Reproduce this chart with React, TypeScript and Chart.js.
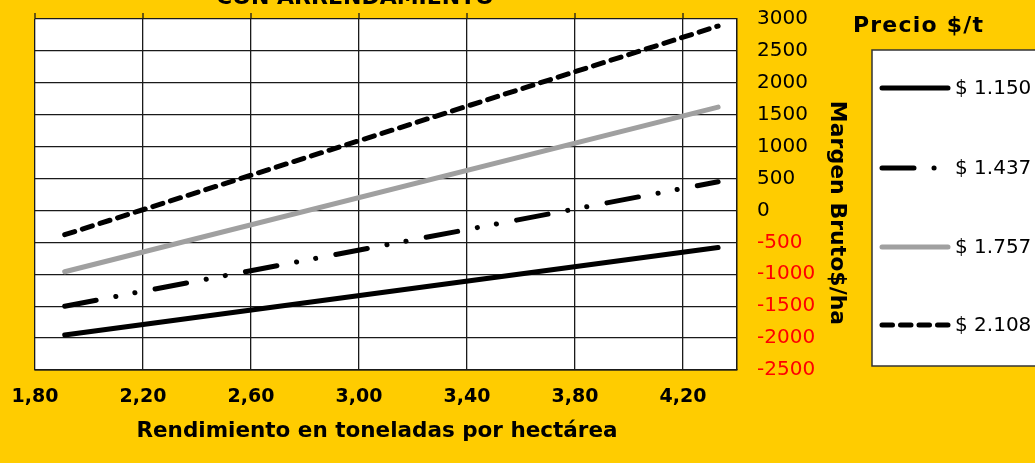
import React, { useEffect, useRef } from "react";
import { Chart, registerables } from "chart.js";

Chart.register(...registerables);

const X_VALUES = [1.91, 4.33];
const S_1150 = [-1950, -580];
const S_1437 = [-1500, 450];
const S_1757 = [-960, 1620];
const S_2108 = [-380, 2890];
const SERIES_LABELS = ["$ 1.150", "$ 1.437", "$ 1.757", "$ 2.108"];
const X_TICKS = [1.8, 2.2, 2.6, 3.0, 3.4, 3.8, 4.2];
const X_MIN = 1.8;
const X_MAX = 4.4;
const Y_MIN = -2500;
const Y_MAX = 3000;
const Y_STEP = 500;
const TITLE = "CON ARRENDAMIENTO";
const X_TITLE = "Rendimiento en toneladas por hectárea";
const Y_TITLE = "Margen Bruto$/ha";
const LEGEND_TITLE = "Precio $/t";

const FONT = "'DejaVu Sans', Verdana, sans-serif";

const STYLES = [
  { color: "#000000", width: 5, dash: [] as number[] },
  { color: "#000000", width: 5, dash: [32, 20, 0.1, 19.3, 0.1, 20.5] },
  { color: "#a0a0a0", width: 5, dash: [] as number[] },
  { color: "#000000", width: 5, dash: [10.5, 8] },
];

const decorPlugin = {
  id: "decor",
  afterDraw(chart: any) {
    const ctx = chart.ctx as CanvasRenderingContext2D;
    const area = chart.chartArea;
    const xs = chart.scales.x;
    const ys = chart.scales.y;
    // white plot background, then grid and lines again on top of it
    ctx.save();
    ctx.globalCompositeOperation = "source-over";
    ctx.fillStyle = "#ffffff";
    ctx.fillRect(area.left, area.top, area.right - area.left, area.bottom - area.top);
    ctx.restore();
    xs.drawGrid(area);
    ys.drawGrid(area);
    if (xs.drawBorder) xs.drawBorder();
    if (ys.drawBorder) ys.drawBorder();
    const metas = chart.getSortedVisibleDatasetMetas();
    for (let i = metas.length - 1; i >= 0; i--) {
      ctx.save();
      metas[i].controller.draw();
      ctx.restore();
    }
    ctx.save();
    ctx.strokeStyle = "#1a1a1a";
    ctx.lineWidth = 1.3;
    X_TICKS.forEach((v) => {
      const px = xs.getPixelForValue(v);
      ctx.beginPath();
      ctx.moveTo(px, area.top - 6);
      ctx.lineTo(px, area.top);
      ctx.stroke();
    });
    ctx.fillStyle = "#000";
    ctx.font = `bold 22px ${FONT}`;
    ctx.textAlign = "center";
    ctx.textBaseline = "alphabetic";
    ctx.fillText(TITLE, 355, 4);
    ctx.font = `bold 21.5px ${FONT}`;
    ctx.textBaseline = "middle";
    ctx.fillText(X_TITLE, 377, 431);
    ctx.save();
    ctx.font = `bold 22px ${FONT}`;
    ctx.translate(837, 213);
    ctx.rotate(Math.PI / 2);
    ctx.fillText(Y_TITLE, 0, 0);
    ctx.restore();
    ctx.save();
    ctx.font = `bold 22px ${FONT}`;
    ctx.textAlign = "left";
    (ctx as any).letterSpacing = "1.2px";
    ctx.fillText(LEGEND_TITLE, 853, 26);
    ctx.restore();
    ctx.fillStyle = "#ffffff";
    ctx.fillRect(872, 50, 200, 316);
    ctx.strokeStyle = "#333";
    ctx.lineWidth = 1.5;
    ctx.strokeRect(872, 50, 200, 316);
    const rows = [88, 168, 247, 325];
    chart.data.datasets.forEach((ds: any, i: number) => {
      const y = rows[i];
      ctx.save();
      ctx.strokeStyle = ds.borderColor;
      ctx.lineWidth = ds.borderWidth;
      ctx.lineCap = "round";
      ctx.setLineDash(ds.borderDash || []);
      ctx.beginPath();
      ctx.moveTo(882, y);
      ctx.lineTo(948, y);
      ctx.stroke();
      ctx.restore();
      ctx.fillStyle = "#000";
      ctx.font = `20px ${FONT}`;
      ctx.textAlign = "left";
      ctx.textBaseline = "middle";
      ctx.fillText(ds.label, 955, y + 1);
    });
    ctx.restore();
  },
};

export default function App() {
  const ref = useRef<HTMLCanvasElement | null>(null);
  useEffect(() => {
    if (!ref.current) return;
    const series = [S_1150, S_1437, S_1757, S_2108];
    const chart = new Chart(ref.current, {
      type: "line",
      data: {
        datasets: series.map((s, i) => ({
          label: SERIES_LABELS[i],
          data: s.map((y, j) => ({ x: X_VALUES[j], y })),
          borderColor: STYLES[i].color,
          borderWidth: STYLES[i].width,
          borderDash: STYLES[i].dash,
          borderCapStyle: "round",
          pointRadius: 0,
          fill: false,
          tension: 0,
        })),
      },
      options: {
        animation: false,
        responsive: false,
        layout: { padding: { left: 35, top: 19, right: 198, bottom: 33 } },
        plugins: { legend: { display: false }, tooltip: { enabled: false } },
        scales: {
          x: {
            type: "linear",
            min: X_MIN,
            max: X_MAX,
            afterBuildTicks: (s: any) => {
              s.ticks = X_TICKS.map((v) => ({ value: v }));
            },
            afterFit: (s: any) => {
              s.height = 60;
              s.paddingLeft = 0;
              s.paddingRight = 0;
            },
            grid: { color: "#1a1a1a", lineWidth: 1.3, drawTicks: false },
            border: { color: "#1a1a1a", width: 1.3 },
            ticks: {
              padding: 16,
              color: "#000",
              font: { family: FONT, size: 19, weight: "bold" },
              callback: (v: any) => Number(v).toFixed(2).replace(".", ","),
              maxRotation: 0,
              autoSkip: false,
            },
          },
          y: {
            position: "right",
            min: Y_MIN,
            max: Y_MAX,
            afterFit: (s: any) => {
              s.width = 100;
              s.paddingTop = 0;
              s.paddingBottom = 0;
            },
            grid: { color: "#1a1a1a", lineWidth: 1.3, drawTicks: false },
            border: { color: "#1a1a1a", width: 1.3 },
            ticks: {
              stepSize: Y_STEP,
              padding: 20,
              font: { family: FONT, size: 20 },
              color: (c: any) => (c.tick && c.tick.value < 0 ? "#ff0000" : "#000000"),
              callback: (v: any) => String(v),
            },
          },
        },
      },
      plugins: [decorPlugin],
    } as any);
    return () => chart.destroy();
  }, []);
  return (
    <div
      style={{
        position: "fixed",
        left: 0,
        top: 0,
        width: 1035,
        height: 463,
        background: "#FFCC00",
        overflow: "hidden",
      }}
    >
      <canvas ref={ref} width={1035} height={463} style={{ display: "block", width: 1035, height: 463 }} />
    </div>
  );
}
